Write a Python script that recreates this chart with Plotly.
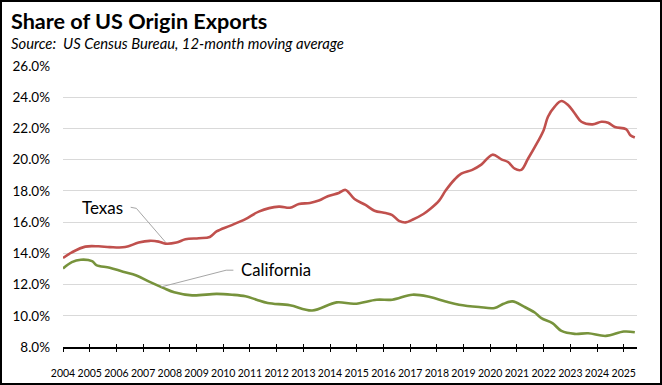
import plotly.graph_objects as go

# ---------------- data (12-month moving average, % of US origin exports) ----------------
tx_dates = ["2004-01", "2004-05", "2004-11", "2005-05", "2005-10", "2006-05", "2006-11",
            "2007-04", "2007-08", "2007-11", "2008-04", "2008-08", "2009-02", "2009-07",
            "2009-10", "2010-04", "2010-11", "2011-05", "2012-02", "2012-07", "2012-11",
            "2013-04", "2013-08", "2013-12", "2014-05", "2014-08", "2014-12", "2015-05",
            "2015-09", "2016-02", "2016-05", "2016-08", "2016-11", "2017-02", "2017-07",
            "2017-10", "2018-02", "2018-05", "2018-09", "2018-12", "2019-05", "2019-09",
            "2020-02", "2020-06", "2020-09", "2020-12", "2021-03", "2021-06", "2021-09",
            "2022-01", "2022-03", "2022-06", "2022-09", "2022-12", "2023-03", "2023-06",
            "2023-11", "2024-03", "2024-06", "2024-09", "2025-02", "2025-04", "2025-06"]
tx_values = [13.70, 14.06, 14.43, 14.45, 14.40, 14.40, 14.69,
             14.80, 14.75, 14.62, 14.69, 14.90, 14.97, 15.05,
             15.40, 15.76, 16.19, 16.67, 16.99, 16.92, 17.16,
             17.23, 17.38, 17.66, 17.87, 18.06, 17.48, 17.10,
             16.73, 16.58, 16.45, 16.08, 15.98, 16.15, 16.52,
             16.84, 17.38, 18.02, 18.73, 19.10, 19.35, 19.68,
             20.32, 20.02, 19.85, 19.42, 19.35, 20.06, 20.80,
             21.89, 22.75, 23.40, 23.76, 23.50, 22.97, 22.43,
             22.26, 22.43, 22.37, 22.09, 21.96, 21.57, 21.42]

ca_dates = ["2004-01", "2004-05", "2004-09", "2005-02", "2005-04", "2005-10", "2006-04",
            "2006-10", "2007-04", "2007-10", "2008-03", "2008-11", "2009-10", "2010-05",
            "2010-11", "2011-04", "2011-09", "2012-07", "2013-05", "2014-04", "2014-12",
            "2015-10", "2016-05", "2017-02", "2017-10", "2018-05", "2018-11", "2019-08",
            "2020-03", "2020-07", "2020-11", "2021-04", "2021-09", "2021-12", "2022-05",
            "2022-09", "2023-03", "2023-09", "2024-05", "2025-01", "2025-06"]
ca_values = [13.03, 13.44, 13.59, 13.50, 13.25, 13.08, 12.82,
             12.58, 12.17, 11.79, 11.50, 11.31, 11.40, 11.35,
             11.25, 11.03, 10.82, 10.67, 10.34, 10.86, 10.77,
             11.03, 11.03, 11.35, 11.20, 10.92, 10.71, 10.56,
             10.50, 10.77, 10.92, 10.60, 10.21, 9.85, 9.53,
             9.03, 8.84, 8.88, 8.71, 8.99, 8.95]

y_ticks = [8, 10, 12, 14, 16, 18, 20, 22, 24, 26]
y_tick_labels = [f"{v:.1f}%" for v in y_ticks]

# label leader lines (date, value)
tx_leader_x = ["2006-07-15", "2006-10-01", "2007-11-01"]
tx_leader_y = [16.95, 16.88, 14.73]
ca_leader_x = ["2010-05-20", "2010-02-10", "2007-09-05"]
ca_leader_y = [12.92, 12.92, 11.85]

TX_COLOR = "#C0504D"
CA_COLOR = "#77933C"
FONT = "Lato"

fig = go.Figure()
fig.add_trace(go.Scatter(x=tx_dates, y=tx_values, mode="lines", name="Texas",
                         line=dict(color=TX_COLOR, width=2.6), line_shape="spline"))
fig.add_trace(go.Scatter(x=ca_dates, y=ca_values, mode="lines", name="California",
                         line=dict(color=CA_COLOR, width=2.6), line_shape="spline"))
fig.add_trace(go.Scatter(x=tx_leader_x, y=tx_leader_y, mode="lines", hoverinfo="skip",
                         line=dict(color="#A6A6A6", width=1), showlegend=False))
fig.add_trace(go.Scatter(x=ca_leader_x, y=ca_leader_y, mode="lines", hoverinfo="skip",
                         line=dict(color="#A6A6A6", width=1), showlegend=False))
# invisible trace to carry the inside-tick overlay axis
fig.add_trace(go.Scatter(x=["2004-01-01", "2025-07-01"], y=[8, 8], mode="lines",
                         xaxis="x2", line=dict(color="rgba(0,0,0,0)"), hoverinfo="skip",
                         showlegend=False))

fig.add_annotation(x="2005-06-20", y=16.95, text="Texas", showarrow=False,
                   font=dict(family=FONT, size=17, color="#000"), xanchor="center", yanchor="middle")
fig.add_annotation(x="2010-08-01", y=12.92, text="California", showarrow=False,
                   font=dict(family=FONT, size=16.7, color="#000"), xanchor="left", yanchor="middle")

L, R, T, B = 63, 25, 66, 38
W, H = 662, 385
pw, ph = W - L - R, H - T - B

fig.add_annotation(xref="paper", yref="paper", x=(9 - L) / pw, y=(H - B - 21) / ph,
                   text="<b>Share of US Origin Exports</b>", showarrow=False,
                   xanchor="left", yanchor="middle",
                   font=dict(family=FONT, size=21.6, color="#000"))
fig.add_annotation(xref="paper", yref="paper", x=(9 - L) / pw, y=(H - B - 43) / ph,
                   text="<i>Source:  US Census Bureau, 12-month moving average</i>", showarrow=False,
                   xanchor="left", yanchor="middle",
                   font=dict(family=FONT, size=14.8, color="#000"))

# outer border
fig.add_shape(type="rect", xref="paper", yref="paper",
              x0=(1 - L) / pw, x1=(W - 1 - L) / pw, y0=(1 - B) / ph, y1=(H - 1 - B) / ph,
              line=dict(color="#000", width=2), fillcolor="rgba(0,0,0,0)", layer="above")

fig.update_layout(
    width=W, height=H,
    margin=dict(l=L, r=R, t=T, b=B),
    paper_bgcolor="white", plot_bgcolor="white",
    showlegend=False,
    font=dict(family=FONT, color="#000"),
    xaxis=dict(type="date", range=["2004-01-01", "2025-07-01"], dtick="M12",
               tick0="2004-01-01", tickformat="%Y", ticks="outside", ticklen=3,
               tickwidth=1.2, tickcolor="#000", showline=True, linecolor="#000",
               linewidth=1.5, showgrid=False, zeroline=False, tickangle=0, automargin=False,
               tickfont=dict(family=FONT, size=10.5, color="#000"), ticklabelstandoff=13),
    xaxis2=dict(type="date", range=["2004-01-01", "2025-07-01"], dtick="M12",
                tick0="2004-01-01", overlaying="x", anchor="y", side="bottom",
                ticks="inside", ticklen=3, tickwidth=1.2, tickcolor="#000", automargin=False,
                showticklabels=False, showline=False, showgrid=False, zeroline=False),
    yaxis=dict(range=[8, 26], tickvals=y_ticks, ticktext=y_tick_labels, automargin=False,
               showgrid=True, gridcolor="#D9D9D9", gridwidth=1.3, zeroline=False,
               showline=False, ticks="", tickfont=dict(family=FONT, size=13.5, color="#000"),
               ticklabelstandoff=12),
)

fig.write_html("out.html", config={"displayModeBar": False},
               post_script="document.body.style.margin='0';document.body.style.overflow='hidden';")
